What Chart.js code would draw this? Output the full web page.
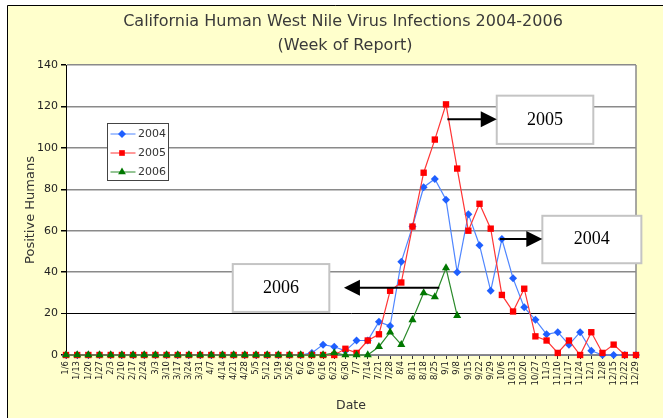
<!DOCTYPE html>
<html>
<head>
<meta charset="utf-8">
<script src="https://cdn.jsdelivr.net/npm/chart.js@4/dist/chart.umd.min.js"></script>
<style>
  body { margin: 0; background: #fff; }
  canvas { display: block; }
</style>
</head>
<body>
<canvas id="myChart" width="663" height="418"></canvas>
<script>
// week of report (weekly, starting 1/6)
var weeks = ["1/6","1/13","1/20","1/27","2/3","2/10","2/17","2/24","3/3","3/10","3/17","3/24","3/31",
  "4/7","4/14","4/21","4/28","5/5","5/12","5/19","5/26","6/2","6/9","6/16","6/23","6/30",
  "7/7","7/14","7/21","7/28","8/4","8/11","8/18","8/25","9/1","9/8","9/15","9/22","9/29",
  "10/6","10/13","10/20","10/27","11/3","11/10","11/17","11/24","12/1","12/8","12/15","12/22","12/29"];

var cases2004 = [0,0,0,0,0,0,0,0,0,0,0,0,0,0,0,0,0,0,0,0,0,0,1,5,4,2,
  7,7,16,14,45,62,81,85,75,40,68,53,31,56,37,23,17,10,11,5,11,2,0,0,0,0];
var cases2005 = [0,0,0,0,0,0,0,0,0,0,0,0,0,0,0,0,0,0,0,0,0,0,0,0,0,3,
  1,7,10,31,35,62,88,104,121,90,60,73,61,29,21,32,9,7,1,7,0,11,1,5,0,0];
var cases2006 = [0,0,0,0,0,0,0,0,0,0,0,0,0,0,0,0,0,0,0,0,0,0,0,0,1,0,
  0,0,4,11,5,17,30,28,42,19,null,null,null,null,null,null,null,null,null,null,null,null,null,null,null,null];

var seriesNames = ["2004", "2005", "2006"];
var yMin = 0, yMax = 140, yStep = 20;

var titleLines = ["California Human West Nile Virus Infections 2004-2006", "(Week of Report)"];

// callout boxes, anchored in data units (category index, value)
var callouts = [
  {text: "2005", x1: 38.54, x2: 47.18, top: 125.2, bottom: 101.9, arrowFrom: 34.12, arrowTo: 38.54, arrowY: 113.8},
  {text: "2004", x1: 42.62, x2: 51.48, top: 67.2, bottom: 44.3, arrowFrom: 38.83, arrowTo: 42.62, arrowY: 56},
  {text: "2006", x1: 14.92, x2: 23.56, top: 43.9, bottom: 20.8, arrowFrom: 33.4, arrowTo: 24.87, arrowY: 32.5}
];

var colors = {
  line2004: "#4f86ff", pt2004: "#1f5fff",
  line2005: "#ff3535", pt2005: "#ff0000",
  line2006: "#2a8a2a", pt2006: "#007800"
};

function drawMarker(ctx, type, x, y, r, color) {
  ctx.fillStyle = color;
  ctx.beginPath();
  if (type == "diamond") {
    ctx.moveTo(x, y - r); ctx.lineTo(x + r, y); ctx.lineTo(x, y + r); ctx.lineTo(x - r, y);
  } else if (type == "square") {
    var s = r * Math.SQRT1_2;
    ctx.rect(x - s, y - s, 2 * s, 2 * s);
  } else {
    ctx.moveTo(x, y - r); ctx.lineTo(x + r * 0.87, y + r * 0.5); ctx.lineTo(x - r * 0.87, y + r * 0.5);
  }
  ctx.closePath();
  ctx.fill();
}

var backdrop = {
  id: "backdrop",
  beforeDraw: function(chart) {
    var ctx = chart.ctx, a = chart.chartArea;
    ctx.save();
    ctx.fillStyle = "#fff";
    ctx.fillRect(0, 0, chart.width, chart.height);
    ctx.fillStyle = "#ffffcc";
    ctx.fillRect(7, 5, chart.width - 7, chart.height - 5);
    ctx.strokeStyle = "#000";
    ctx.lineWidth = 1;
    ctx.beginPath();
    ctx.moveTo(7.5, chart.height); ctx.lineTo(7.5, 5.5); ctx.lineTo(chart.width, 5.5);
    ctx.stroke();
    ctx.fillStyle = "#fff";
    ctx.fillRect(a.left, a.top, a.right - a.left, a.bottom - a.top);

    ctx.fillStyle = "#3a3a3a";
    ctx.font = '16px "DejaVu Sans"';
    ctx.textAlign = "center";
    ctx.textBaseline = "middle";
    ctx.fillText(titleLines[0], 343, 22);
    ctx.fillText(titleLines[1], 345, 46);
    ctx.restore();
  },
  beforeDatasetsDraw: function(chart) {
    var ctx = chart.ctx, a = chart.chartArea;
    ctx.save();
    ctx.strokeStyle = "#8a8a8a";
    ctx.lineWidth = 1.5;
    ctx.beginPath();
    ctx.moveTo(a.right, a.top); ctx.lineTo(a.right, a.bottom);
    ctx.stroke();
    ctx.restore();
  },
  afterDraw: function(chart) {
    var ctx = chart.ctx, a = chart.chartArea;
    var xs = chart.scales.x, ys = chart.scales.y;
    ctx.save();

    // legend box
    var lx = a.left + 41, ly = a.top + 58;
    ctx.fillStyle = "#fff";
    ctx.fillRect(lx, ly, 62, 58);
    ctx.strokeStyle = "#444";
    ctx.lineWidth = 1;
    ctx.strokeRect(lx + 0.5, ly + 0.5, 61, 57);
    var marks = ["diamond", "square", "triangle"];
    var lc = [colors.line2004, colors.line2005, colors.line2006];
    var pc = [colors.pt2004, colors.pt2005, colors.pt2006];
    ctx.font = '11px "DejaVu Sans"';
    ctx.textAlign = "left";
    ctx.textBaseline = "middle";
    for (var i = 0; i < seriesNames.length; i++) {
      var ry = ly + 11 + i * 19;
      ctx.strokeStyle = lc[i];
      ctx.beginPath();
      ctx.moveTo(lx + 3.5, ry); ctx.lineTo(lx + 28.5, ry);
      ctx.stroke();
      drawMarker(ctx, marks[i], lx + 15, ry, i == 2 ? 4.5 : 4, pc[i]);
      ctx.fillStyle = "#333";
      ctx.fillText(seriesNames[i], lx + 31, ry + 0.5);
    }

    // callouts with arrows
    callouts.forEach(function(c) {
      var bx1 = xs.getPixelForValue(c.x1), bx2 = xs.getPixelForValue(c.x2);
      var by1 = ys.getPixelForValue(c.top), by2 = ys.getPixelForValue(c.bottom);
      ctx.fillStyle = "#fff";
      ctx.fillRect(bx1, by1, bx2 - bx1, by2 - by1);
      ctx.strokeStyle = "#c4c4c4";
      ctx.lineWidth = 2;
      ctx.strokeRect(bx1, by1, bx2 - bx1, by2 - by1);
      ctx.fillStyle = "#000";
      ctx.font = '18px "Liberation Serif"';
      ctx.textAlign = "center";
      ctx.textBaseline = "middle";
      ctx.fillText(c.text, (bx1 + bx2) / 2, (by1 + by2) / 2);

      var ax1 = xs.getPixelForValue(c.arrowFrom), ax2 = xs.getPixelForValue(c.arrowTo);
      var ay = ys.getPixelForValue(c.arrowY);
      var dir = ax2 > ax1 ? 1 : -1;
      ctx.strokeStyle = "#000";
      ctx.lineWidth = 2;
      ctx.beginPath();
      ctx.moveTo(ax1, ay); ctx.lineTo(ax2 - dir * 10, ay);
      ctx.stroke();
      ctx.fillStyle = "#000";
      ctx.beginPath();
      ctx.moveTo(ax2, ay);
      ctx.lineTo(ax2 - dir * 16, ay - 8);
      ctx.lineTo(ax2 - dir * 16, ay + 8);
      ctx.closePath();
      ctx.fill();
    });
    ctx.restore();
  }
};

var ctx = document.getElementById("myChart").getContext("2d");
var chart = new Chart(ctx, {
  type: "line",
  data: {
    labels: weeks,
    datasets: [
      {
        label: seriesNames[0],
        data: cases2004,
        borderColor: colors.line2004,
        backgroundColor: colors.pt2004,
        borderWidth: 1.2,
        pointStyle: "rectRot",
        pointRadius: 4,
        pointBorderWidth: 0,
        tension: 0,
        clip: false,
        order: 3
      },
      {
        label: seriesNames[1],
        data: cases2005,
        borderColor: colors.line2005,
        backgroundColor: colors.pt2005,
        borderWidth: 1.2,
        pointStyle: "rect",
        pointRadius: 4.5,
        pointBorderWidth: 0,
        tension: 0,
        clip: false,
        order: 2
      },
      {
        label: seriesNames[2],
        data: cases2006,
        borderColor: colors.line2006,
        backgroundColor: colors.pt2006,
        borderWidth: 1.2,
        pointStyle: "triangle",
        pointRadius: 4.7,
        pointBorderWidth: 0,
        tension: 0,
        clip: false,
        spanGaps: false,
        order: 1
      }
    ]
  },
  options: {
    responsive: false,
    animation: false,
    events: [],
    layout: { padding: { left: 0, right: 27, top: 65, bottom: 0 } },
    plugins: {
      legend: { display: false },
      title: { display: false },
      tooltip: { enabled: false }
    },
    scales: {
      x: {
        offset: false,
        afterFit: function(s) { s.height = 63; },
        border: { color: "#7f8090", width: 1 },
        grid: { drawOnChartArea: false, drawTicks: true, tickLength: 4, color: "#333" },
        ticks: {
          autoSkip: false, minRotation: 90, maxRotation: 90, padding: 2,
          color: "#1a1a1a", font: { family: "DejaVu Sans", size: 8.5 }
        },
        title: {
          display: true, text: "Date", color: "#333",
          font: { family: "DejaVu Sans", size: 12.5 },
          padding: { top: 0, bottom: 5 }
        }
      },
      y: {
        min: yMin, max: yMax,
        afterFit: function(s) { s.width = 66; },
        border: { color: "#000", width: 1 },
        grid: {
          color: function(c) {
            if (c.tick.value == 20) return "#000";
            return "#8a8a8a";
          },
          lineWidth: function(c) { return c.tick.value == 20 ? 1 : 1.5; },
          tickColor: "#000",
          tickLength: 5
        },
        ticks: {
          stepSize: yStep, padding: 3, color: "#222",
          font: { family: "DejaVu Sans", size: 11 }
        },
        title: {
          display: true, text: "Positive Humans", color: "#333",
          font: { family: "DejaVu Sans", size: 13 },
          padding: { top: 23, bottom: 0 }
        }
      }
    }
  },
  plugins: [backdrop]
});
</script>
</body>
</html>
